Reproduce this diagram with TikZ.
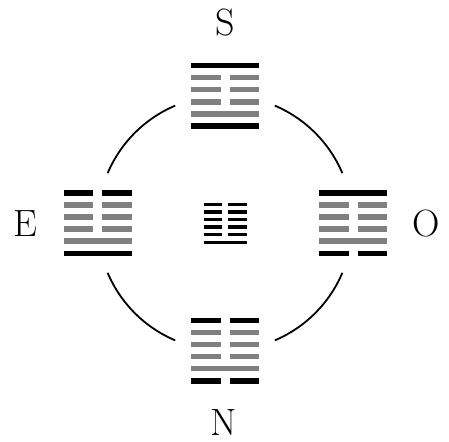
\documentclass[tikz,border=0pt]{standalone}
\definecolor{yaogray}{RGB}{128,128,128}
\newcommand\hexagram[7]{%
  \foreach \t/\c [count=\i from 0] in {#7}{%
    \pgfmathsetmacro\yy{#2+(\i-2.5)*#6}%
    \ifnum\t=1
      \fill[\c] ({#1-#3/2},{\yy-#5/2}) rectangle ({#1+#3/2},{\yy+#5/2});
    \else
      \fill[\c] ({#1-#3/2},{\yy-#5/2}) rectangle ({#1-#4/2},{\yy+#5/2});
      \fill[\c] ({#1+#4/2},{\yy-#5/2}) rectangle ({#1+#3/2},{\yy+#5/2});
    \fi
  }}
\tikzset{
  dirlabel/.style={inner sep=0pt, font=\fontsize{38}{40}\selectfont},
  ring/.style={line width=1.8pt, black}
}
\begin{document}
\begin{tikzpicture}[x=1pt,y=-1pt]
\useasboundingbox (0,0) rectangle (449,441);
\coordinate (C) at (225,223);
\coordinate (S) at (225,95.75);
\coordinate (N) at (225,350.5);
\coordinate (E) at (97.5,223);
\coordinate (O) at (353,223);
% ring arcs
\foreach \a in {23,113,203,293}
  \draw[ring] (C) ++(\a:127.5) arc[start angle=\a, end angle=\a+44, radius=127.5];
% hexagrams
\hexagram{225}{95.75}{68}{9}{5.5}{12.1}{1/black,0/yaogray,0/yaogray,0/yaogray,1/yaogray,1/black}
\hexagram{97.5}{223}{68}{9}{5.5}{12.1}{0/black,0/yaogray,0/yaogray,0/yaogray,1/yaogray,1/black}
\hexagram{353}{223}{68}{9}{5.5}{12.1}{1/black,0/yaogray,0/yaogray,0/yaogray,1/yaogray,0/black}
\hexagram{225}{350.5}{68}{9}{5.5}{12.1}{0/black,0/yaogray,0/yaogray,0/yaogray,1/yaogray,0/black}
\hexagram{225.3}{223.3}{42.7}{6}{3.3}{7.6}{0/black,0/black,0/black,0/black,0/black,1/black}
% labels
\node[dirlabel] (lS) at (225.5,22.5) {S};
\node[dirlabel] (lE) at (25,223.5) {E};
\node[dirlabel] (lO) at (426,224) {O};
\node[dirlabel] (lN) at (223.5,422.5) {N};
\end{tikzpicture}
\end{document}
